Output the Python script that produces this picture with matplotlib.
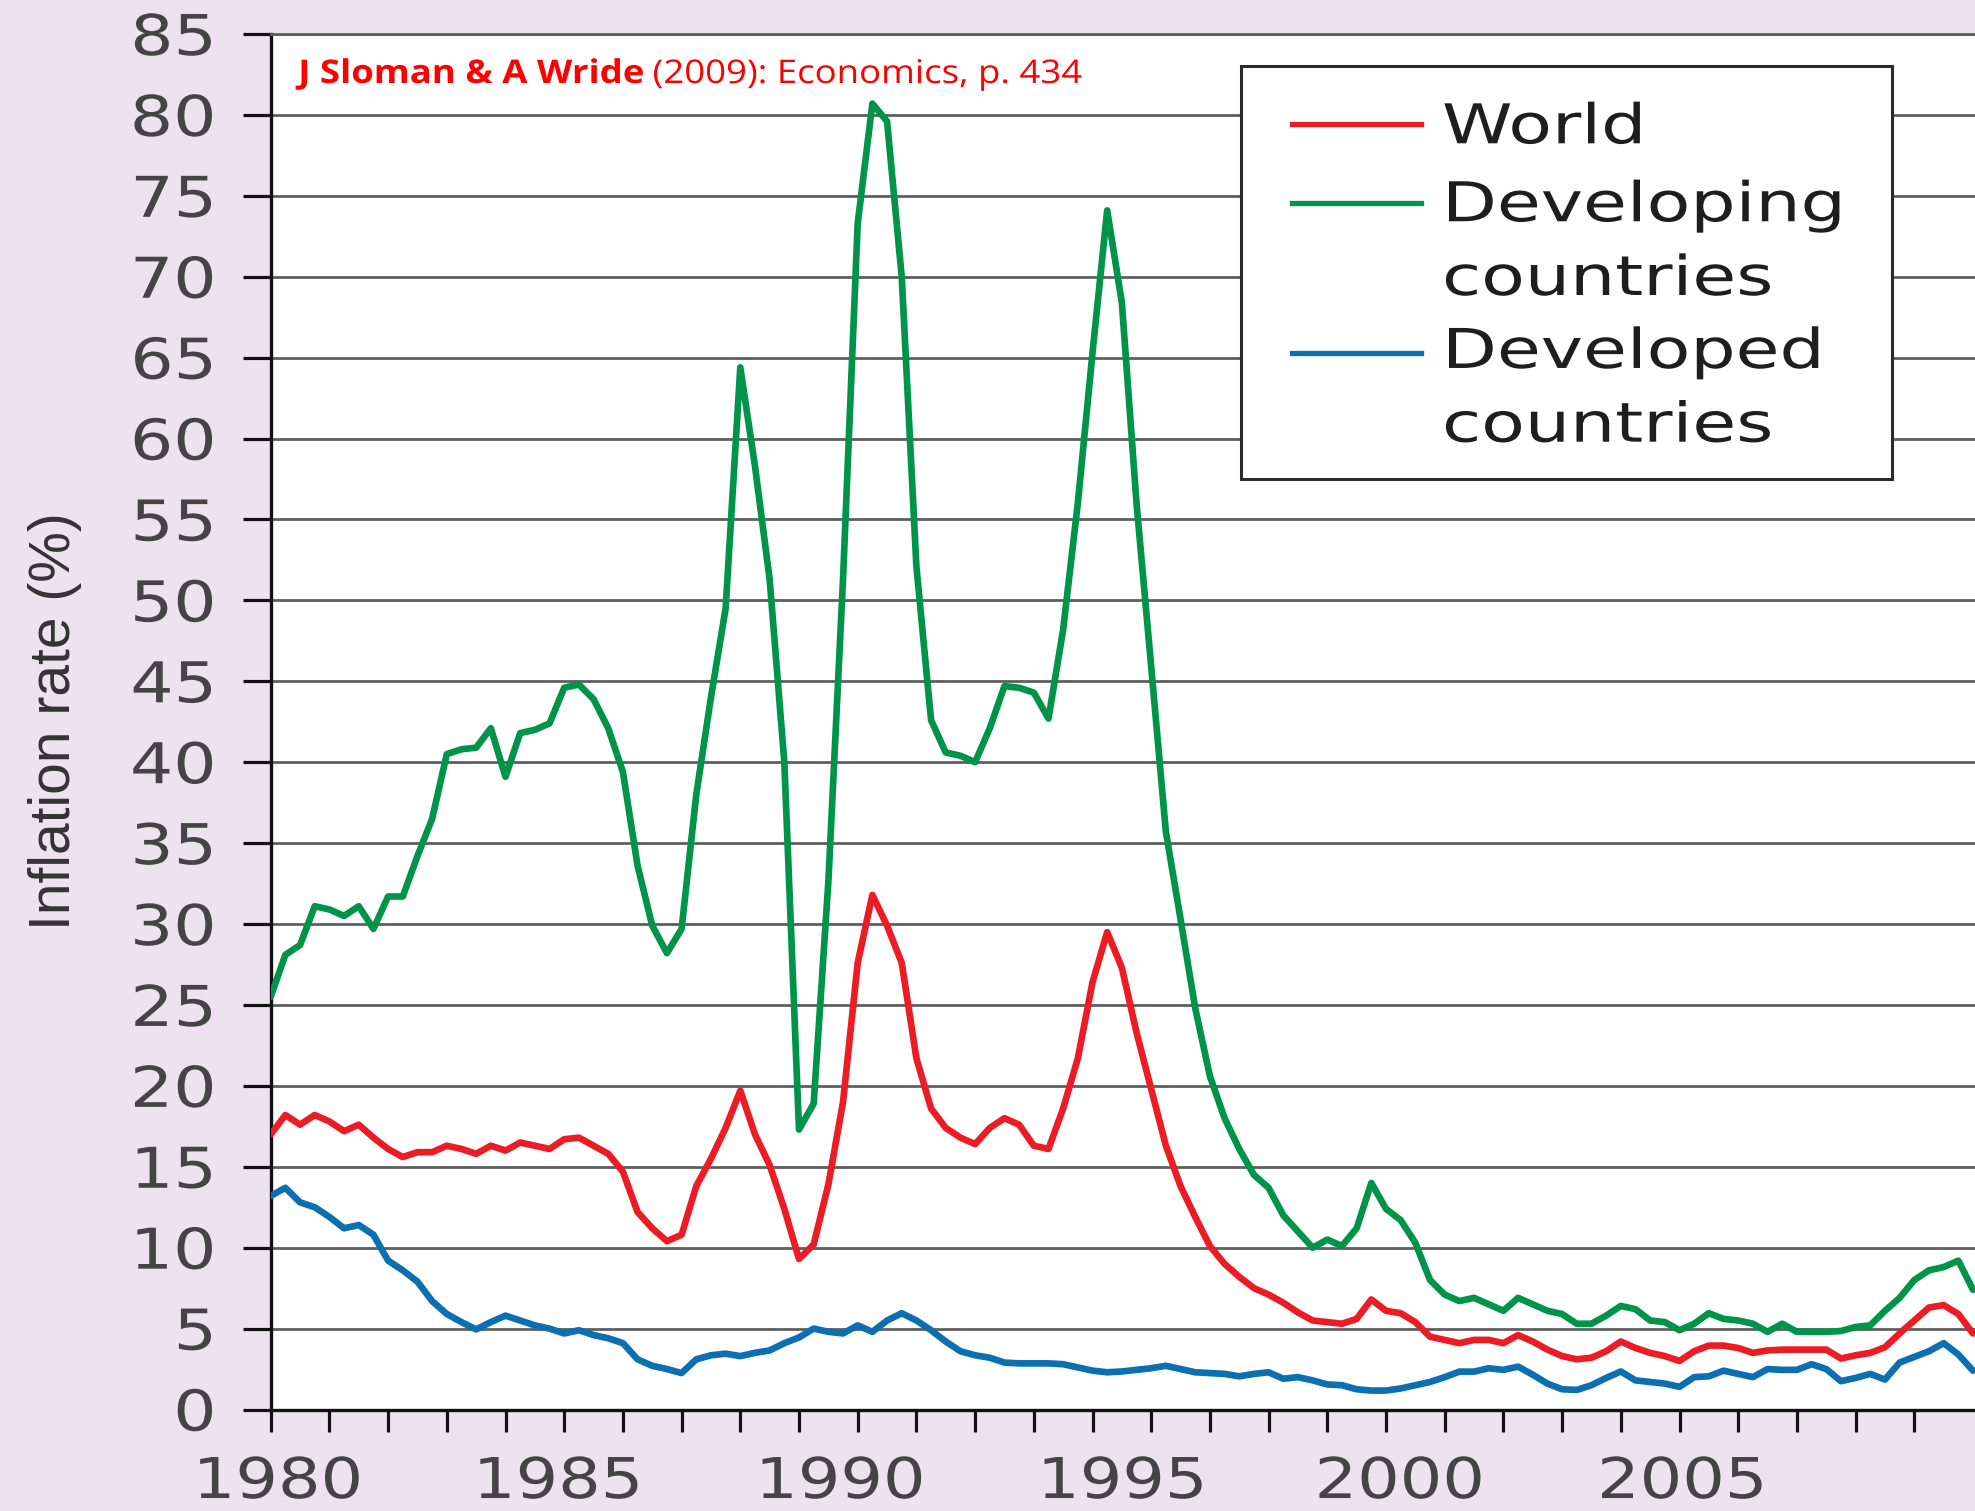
import matplotlib
matplotlib.use("Agg")
import matplotlib.pyplot as plt
import numpy as np
from matplotlib.patheffects import AbstractPathEffect
from matplotlib.transforms import Affine2D
from matplotlib.lines import Line2D
from matplotlib.patches import Rectangle
from matplotlib.ticker import FixedLocator, FixedFormatter, NullFormatter

# ---------------- data (quarterly, starting 1980 Q1) ----------------
START_YEAR = 1980
QUARTERS_PER_YEAR = 4

world = [17.0, 18.2, 17.6, 18.2, 17.8, 17.2, 17.6, 16.8, 16.1, 15.6, 15.9, 15.9,
         16.3, 16.1, 15.8, 16.3, 16.0, 16.5, 16.3, 16.1, 16.7, 16.8, 16.3, 15.8,
         14.7, 12.2, 11.2, 10.4, 10.8, 13.8, 15.5, 17.4, 19.7, 17.0, 15.1, 12.4,
         9.3, 10.2, 13.9, 19.0, 27.6, 31.8, 29.9, 27.6, 21.7, 18.6, 17.4, 16.8,
         16.4, 17.4, 18.0, 17.6, 16.3, 16.1, 18.6, 21.7, 26.4, 29.5, 27.3, 23.3,
         19.8, 16.3, 13.8, 11.9, 10.1, 9.0, 8.2, 7.5, 7.1, 6.6, 6.0, 5.5,
         5.4, 5.3, 5.6, 6.8, 6.1, 5.95, 5.4, 4.5, 4.3, 4.1, 4.3, 4.3,
         4.1, 4.6, 4.2, 3.7, 3.3, 3.1, 3.2, 3.6, 4.2, 3.8, 3.5, 3.3,
         3.0, 3.6, 3.95, 3.95, 3.8, 3.5, 3.65, 3.7, 3.7, 3.7, 3.7, 3.15,
         3.35, 3.5, 3.85, 4.7, 5.5, 6.3, 6.45, 5.9, 4.7]

developing = [25.5, 28.1, 28.7, 31.1, 30.9, 30.5, 31.1, 29.7, 31.7, 31.7, 34.2, 36.5,
              40.5, 40.8, 40.9, 42.1, 39.1, 41.8, 42.0, 42.4, 44.6, 44.8, 43.9, 42.1,
              39.4, 33.6, 29.9, 28.2, 29.7, 38.0, 44.0, 49.5, 64.4, 58.3, 51.3, 40.0,
              17.3, 18.9, 32.6, 51.3, 73.3, 80.7, 79.6, 70.0, 52.1, 42.6, 40.6, 40.4,
              40.0, 42.1, 44.7, 44.6, 44.3, 42.7, 48.2, 56.0, 65.3, 74.1, 68.4, 56.0,
              45.9, 35.7, 30.3, 24.8, 20.6, 18.0, 16.1, 14.5, 13.7, 12.0, 11.0, 10.0,
              10.5, 10.1, 11.2, 14.0, 12.4, 11.7, 10.3, 8.0, 7.1, 6.7, 6.9, 6.5,
              6.1, 6.9, 6.5, 6.1, 5.9, 5.3, 5.3, 5.8, 6.4, 6.2, 5.5, 5.4,
              4.9, 5.3, 5.95, 5.6, 5.5, 5.3, 4.8, 5.3, 4.8, 4.8, 4.8, 4.85,
              5.1, 5.2, 6.1, 6.9, 8.0, 8.6, 8.8, 9.2, 7.4]

developed = [13.2, 13.7, 12.8, 12.5, 11.9, 11.2, 11.4, 10.8, 9.2, 8.6, 7.9, 6.7,
             5.9, 5.4, 4.95, 5.4, 5.8, 5.5, 5.2, 5.0, 4.7, 4.9, 4.6, 4.4,
             4.1, 3.1, 2.7, 2.5, 2.25, 3.1, 3.35, 3.45, 3.3, 3.5, 3.65, 4.1,
             4.45, 5.0, 4.8, 4.7, 5.2, 4.8, 5.5, 5.95, 5.5, 4.9, 4.2, 3.6,
             3.35, 3.2, 2.9, 2.85, 2.85, 2.85, 2.8, 2.6, 2.4, 2.3, 2.35, 2.45,
             2.55, 2.7, 2.5, 2.3, 2.25, 2.2, 2.05, 2.2, 2.3, 1.9, 2.0, 1.8,
             1.55, 1.5, 1.25, 1.17, 1.17, 1.3, 1.5, 1.7, 2.0, 2.34, 2.34, 2.55,
             2.45, 2.65, 2.15, 1.6, 1.25, 1.21, 1.5, 1.95, 2.35, 1.8, 1.7, 1.6,
             1.4, 2.0, 2.05, 2.4, 2.2, 2.0, 2.5, 2.45, 2.45, 2.8, 2.5, 1.75,
             1.95, 2.2, 1.85, 2.9, 3.25, 3.6, 4.1, 3.4, 2.4]

series_labels = ["World", "Developing\ncountries", "Developed\ncountries"]
series_colors = ["#EC1C24", "#00944A", "#0B6FB1"]
x_tick_labels = ["1980", "1985", "1990", "1995", "2000", "2005"]
y_ticks = list(range(0, 90, 5))
y_label = "Inflation rate (%)"
citation_bold = "J Sloman & A Wride"
citation_rest = " (2009): Economics, p. 434"

quarters = START_YEAR + np.arange(len(world)) / QUARTERS_PER_YEAR

# ---------------- layout ----------------
W, H = 1975, 1511
BG = "#EDE3EF"
AX_LEFT_PX, AX_BOTTOM_PX, AX_TOP_PX = 270.7, 1409.5, 34.0
PX_PER_YEAR = 58.7
X_MAX = START_YEAR + (W - AX_LEFT_PX) / PX_PER_YEAR
LABEL_POS = [1980.12, 1984.89, 1989.70, 1994.50, 1999.23, 2004.04]
MINOR_TICKS = list(range(1980, 2009))


def fx(px):
    return px / W


def fy(py):
    return 1 - py / H


class HStretch(AbstractPathEffect):
    """Widen glyph outlines horizontally about an anchor on the ink box."""

    def __init__(self, sx, anchor="left"):
        super().__init__()
        self.sx = sx
        self.anchor = anchor

    def draw_path(self, renderer, gc, tpath, affine, rgbFace=None):
        verts = affine.transform(tpath.vertices)
        if len(verts) == 0:
            renderer.draw_path(gc, tpath, affine, rgbFace)
            return
        xmin, xmax = verts[:, 0].min(), verts[:, 0].max()
        x0 = {"left": xmin, "right": xmax, "center": 0.5 * (xmin + xmax)}[self.anchor]
        new = affine + Affine2D().translate(-x0, 0).scale(self.sx, 1).translate(x0, 0)
        renderer.draw_path(gc, tpath, new, rgbFace)


fig = plt.figure(figsize=(W / 100, H / 100), dpi=100, facecolor=BG)
ax = fig.add_axes([fx(AX_LEFT_PX), fy(AX_BOTTOM_PX),
                   (W - AX_LEFT_PX) / W, (AX_BOTTOM_PX - AX_TOP_PX) / H])
ax.set_facecolor("white")

for vals, col, z in [(developing, series_colors[1], 3),
                     (world, series_colors[0], 4),
                     (developed, series_colors[2], 5)]:
    ax.plot(quarters, vals, color=col, lw=4.8, solid_joinstyle="round",
            solid_capstyle="round", zorder=z)

ax.set_xlim(START_YEAR, X_MAX)
ax.set_ylim(0, 85)

# y axis
ax.set_yticks(y_ticks)
ax.set_yticklabels([str(v) for v in y_ticks])
ax.yaxis.grid(True, color="#5f5f5f", lw=2.0, zorder=1)
ax.set_axisbelow(True)
ax.tick_params(axis="y", direction="out", length=20, width=2.3, color="#111111",
               pad=19.5, labelsize=40.5, labelcolor="#444444")

# x axis
ax.xaxis.set_major_locator(FixedLocator(LABEL_POS))
ax.xaxis.set_major_formatter(FixedFormatter(x_tick_labels))
ax.xaxis.set_minor_locator(FixedLocator(MINOR_TICKS))
ax.xaxis.set_minor_formatter(NullFormatter())
ax.tick_params(axis="x", which="major", length=0, pad=33.5, labelsize=40.5,
               labelcolor="#444444")
ax.tick_params(axis="x", which="minor", direction="out", length=16, width=2.3,
               color="#111111")

for lbl in ax.get_xticklabels():
    lbl.set_fontfamily("DejaVu Sans")
    lbl.set_path_effects([HStretch(1.19, "center")])
for lbl in ax.get_yticklabels():
    lbl.set_fontfamily("DejaVu Sans")
    lbl.set_path_effects([HStretch(1.21, "right")])

for side in ["left", "bottom"]:
    ax.spines[side].set_color("#111111")
    ax.spines[side].set_linewidth(2.4)
ax.spines["top"].set_color("#5f5f5f")
ax.spines["top"].set_linewidth(2.0)
ax.spines["right"].set_visible(False)

ax.set_ylabel(y_label, family="Liberation Sans", fontsize=41, color="#333333")
ax.yaxis.set_label_coords((82 - AX_LEFT_PX) / (W - AX_LEFT_PX),
                          (AX_BOTTOM_PX - 721) / (AX_BOTTOM_PX - AX_TOP_PX))

# legend box (drawn by hand to mimic the wide lettering)
frame = Rectangle((fx(1241), fy(478.6)), (1892 - 1241) / W, (478.6 - 65.5) / H,
                  transform=fig.transFigure, facecolor="white",
                  edgecolor="#2a2a2a", lw=2.2, zorder=5)
fig.add_artist(frame)
handle_y = [124.0, 203.0, 352.5]
last_line_baseline = [143.3, 295.0, 441.7]
for lab, col, hy, by in zip(series_labels, series_colors, handle_y, last_line_baseline):
    fig.add_artist(Line2D([fx(1292), fx(1421)], [fy(hy), fy(hy)],
                          transform=fig.transFigure, color=col, lw=3.8, zorder=6))
    fig.text(fx(1442), fy(by), lab, family="DejaVu Sans", fontsize=39.5,
             color="#1e1e1e", ha="left", va="baseline", linespacing=1.47,
             zorder=6, path_effects=[HStretch(1.3, "left")])

# citation
CIT_SX = 1.12
t1 = fig.text(fx(298), fy(83), citation_bold, family="Open Sans", weight="bold",
              fontsize=23.5, color="#FF0000", ha="left", va="baseline", zorder=7,
              path_effects=[HStretch(CIT_SX, "left")])
renderer = fig.canvas.get_renderer()
bb = t1.get_window_extent(renderer)
x_next = bb.x0 + bb.width * CIT_SX
fig.text(x_next / fig.bbox.width, fy(83), citation_rest, family="Open Sans",
         fontsize=23.5, color="#FF0000", ha="left", va="baseline", zorder=7,
         path_effects=[HStretch(CIT_SX, "left")])

fig.savefig("out.png", dpi=100, facecolor=BG)
